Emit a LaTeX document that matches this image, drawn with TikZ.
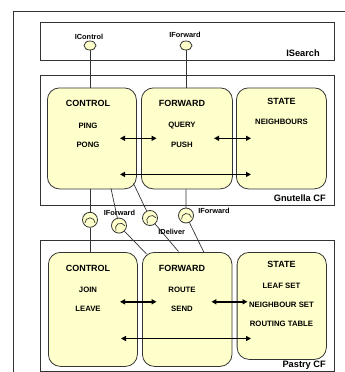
\documentclass[tikz,border=0pt]{standalone}
\usepackage{fontspec}
\setmainfont{Liberation Sans}
\usetikzlibrary{arrows.meta,shapes.geometric}
\definecolor{pale}{HTML}{FFFFCC}
\definecolor{ink}{HTML}{333333}
\begin{document}
\begin{tikzpicture}[x=1bp,y=-1bp,
  frame/.style={draw=ink,line width=0.8bp},
  container/.style={draw=ink,line width=0.8bp,fill=white,rectangle,inner sep=0,anchor=north west},
  comp/.style={draw=ink,line width=0.8bp,fill=pale,rectangle,rounded corners=12bp,inner sep=0,anchor=north west},
  ttl/.style={font=\bfseries\fontsize{9}{10}\selectfont,inner sep=0},
  itm/.style={font=\bfseries\fontsize{7.8}{9}\selectfont,inner sep=0},
  cf/.style={font=\bfseries\fontsize{9.3}{10}\selectfont,inner sep=0,anchor=east},
  ifl/.style={font=\bfseries\fontsize{7.4}{8}\selectfont,inner sep=0},
  wire/.style={draw=ink,line width=0.7bp},
  dbl/.style={draw=black,line width=1.4bp,{Triangle[length=5bp,width=5bp]}-{Triangle[length=5bp,width=5bp]}},
  sock/.style={circle,draw=ink,line width=0.8bp,fill=pale,minimum size=15bp,inner sep=0},
  lolli/.style={ellipse,draw=ink,line width=0.8bp,fill=pale,minimum width=12bp,minimum height=9bp,inner sep=0}
]
\useasboundingbox (0,0) rectangle (345,372);
% outer frame
\coordinate (ofa) at (13.5,372);
\coordinate (ofb) at (13.5,11.1);
\coordinate (ofc) at (345,11.1);
\draw[frame] (ofa) -- (ofb) -- (ofc);

% containers
\node[container,minimum width=294bp,minimum height=38bp] (isearch) at (40.4,21.9) {};
\node[container,minimum width=294bp,minimum height=129.5bp] (gnut) at (40.4,75) {};
\node[container,minimum width=294bp,minimum height=130.5bp] (pastry) at (40.4,240) {};

% Gnutella components
\node[comp,minimum width=89bp,minimum height=101bp] (gctl) at (47,87.5) {};
\node[comp,minimum width=91bp,minimum height=101bp] (gfwd) at (141,87.5) {};
\node[comp,minimum width=90bp,minimum height=101bp] (gst) at (236,87.5) {};

% Pastry components
\node[comp,minimum width=89bp,minimum height=114bp] (pctl) at (48,252) {};
\node[comp,minimum width=89.6bp,minimum height=114bp] (pfwd) at (142,252) {};
\node[comp,minimum width=89.3bp,minimum height=107bp] (pst) at (236.7,252) {};

% container labels
\node[cf] (isl) at (320,52.9) {ISearch};
\node[cf] (gnl) at (326,198.6) {Gnutella CF};
\node[cf] (pal) at (326,365.5) {Pastry CF};

% Gnutella texts
\node[ttl] (t1) at (88,103.7) {CONTROL};
\node[itm] (t2) at (88,125.5) {PING};
\node[itm] (t3) at (88,144.7) {PONG};
\node[ttl] (t4) at (182,103.7) {FORWARD};
\node[itm] (t5) at (182,125.5) {QUERY};
\node[itm] (t6) at (182,144.7) {PUSH};
\node[ttl] (t7) at (281.5,101) {STATE};
\node[itm] (t8) at (281.5,122) {NEIGHBOURS};

% Pastry texts
\node[ttl] (u1) at (88,268) {CONTROL};
\node[itm] (u2) at (88,290) {JOIN};
\node[itm] (u3) at (88,309) {LEAVE};
\node[ttl] (u4) at (182,268) {FORWARD};
\node[itm] (u5) at (182,290) {ROUTE};
\node[itm] (u6) at (182,309) {SEND};
\node[ttl] (u7) at (281.5,264.8) {STATE};
\node[itm] (u8) at (281.5,285.7) {LEAF SET};
\node[itm] (u9) at (281.5,304.8) {NEIGHBOUR SET};
\node[itm] (u10) at (281.5,323.7) {ROUTING TABLE};

% arrows Gnutella
\coordinate (ga1) at (120,138.3); \coordinate (ga2) at (156.6,138.3);
\coordinate (ga3) at (214,138.3); \coordinate (ga4) at (251,138.3);
\coordinate (ga5) at (120,174.4); \coordinate (ga6) at (251,174.4);
\draw[dbl] (ga1) -- (ga2);
\draw[dbl] (ga3) -- (ga4);
\draw[dbl] (ga5) -- (ga6);

% arrows Pastry
\coordinate (pa1) at (120,301.8); \coordinate (pa2) at (156.6,301.8);
\coordinate (pa3) at (211.4,301.8); \coordinate (pa4) at (247.5,301.8);
\coordinate (pa5) at (121,338.5); \coordinate (pa6) at (251,338.5);
\draw[dbl] (pa1) -- (pa2);
\draw[dbl] (pa3) -- (pa4);
\draw[dbl] (pa5) -- (pa6);

% ISearch interfaces
\node[lolli] (i1) at (90,45.5) {};
\node[lolli] (i2) at (186,45.5) {};
\node[ifl] (i1l) at (89,37) {IControl};
\node[ifl] (i2l) at (185,34.7) {IForward};
\draw[wire] (i1) -- (gctl.north -| i1);
\draw[wire] (i2) -- (gfwd.north -| i2);

% sockets between Gnutella and Pastry
\node[sock] (s1) at (90,219.8) {};
\node[sock] (s2) at (119,225.6) {};
\node[sock] (s3) at (150,218) {};
\node[sock] (s4) at (186,215.5) {};
\coordinate (l2a) at (111,188.5); \coordinate (l2b) at (146.5,254);
\coordinate (l3a) at (133.5,183.5); \coordinate (l3b) at (178.5,251.5);
\coordinate (l4b) at (204,252.5);
\draw[wire] (gctl.south -| s1) -- (s1) -- (pctl.north -| s1);
\draw[wire] (l2a) -- (s2) -- (l2b);
\draw[wire] (l3a) -- (s3) -- (l3b);
\draw[wire] (gfwd.south -| s4) -- (s4) -- (l4b);
\foreach \n/\a in {s1/0,s2/28,s3/34,s4/10}{
  \begin{scope}[shift={(\n.center)},rotate=\a]
    \draw[wire] (-5,3) arc[start angle=180,end angle=0,radius=5bp];
  \end{scope}
}
\node[ifl] (f1) at (119.5,212.4) {IForward};
\node[ifl] (f2) at (214,210.4) {IForward};
\node[ifl] (f3) at (171.7,231.8) {IDeliver};
\end{tikzpicture}
\end{document}
